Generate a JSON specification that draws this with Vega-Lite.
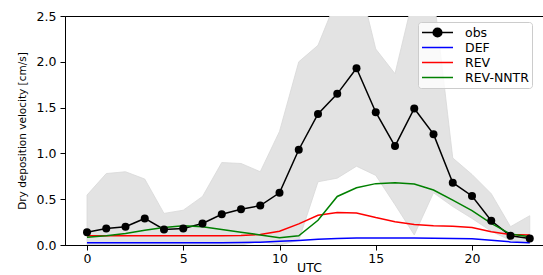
{
  "$schema": "https://vega.github.io/schema/vega-lite/v6.json",
  "width": 479,
  "height": 229,
  "autosize": {"type": "none"},
  "padding": {"left": 65, "top": 16, "right": 0, "bottom": 30},
  "config": {
    "font": "DejaVu Sans",
    "view": {"stroke": "black", "strokeWidth": 1},
    "axis": {
      "grid": false,
      "domainColor": "black",
      "tickColor": "black",
      "labelColor": "black",
      "titleColor": "black",
      "titleFontWeight": "normal",
      "labelFont": "DejaVu Sans",
      "titleFont": "DejaVu Sans"
    }
  },
  "datasets": {
    "band": [
      {"hour": 0, "lo": 0, "hi": 0.545},
      {"hour": 1, "lo": 0, "hi": 0.78},
      {"hour": 2, "lo": 0, "hi": 0.8},
      {"hour": 3, "lo": 0, "hi": 0.72},
      {"hour": 4, "lo": 0, "hi": 0.345},
      {"hour": 5, "lo": 0, "hi": 0.38},
      {"hour": 6, "lo": 0, "hi": 0.53},
      {"hour": 7, "lo": 0, "hi": 0.9},
      {"hour": 8, "lo": 0, "hi": 0.89},
      {"hour": 9, "lo": 0.04, "hi": 0.8},
      {"hour": 10, "lo": 0.0, "hi": 1.24},
      {"hour": 11, "lo": 0.05, "hi": 2.0},
      {"hour": 12, "lo": 0.69, "hi": 2.18},
      {"hour": 13, "lo": 0.73, "hi": 2.7},
      {"hour": 14, "lo": 0.86, "hi": 3.0},
      {"hour": 15, "lo": 0.76, "hi": 2.14},
      {"hour": 16, "lo": 0.44, "hi": 1.87},
      {"hour": 17, "lo": 0.11, "hi": 2.75},
      {"hour": 18, "lo": 0.57, "hi": 2.75},
      {"hour": 19, "lo": 0.42, "hi": 0.95},
      {"hour": 20, "lo": 0.29, "hi": 0.77},
      {"hour": 21, "lo": 0.15, "hi": 0.56},
      {"hour": 22, "lo": 0.05, "hi": 0.2},
      {"hour": 23, "lo": 0.02, "hi": 0.32}
    ],
    "series": [
      {"hour": 0, "series": "obs", "value": 0.14},
      {"hour": 1, "series": "obs", "value": 0.18},
      {"hour": 2, "series": "obs", "value": 0.2},
      {"hour": 3, "series": "obs", "value": 0.29},
      {"hour": 4, "series": "obs", "value": 0.17},
      {"hour": 5, "series": "obs", "value": 0.18},
      {"hour": 6, "series": "obs", "value": 0.235},
      {"hour": 7, "series": "obs", "value": 0.335},
      {"hour": 8, "series": "obs", "value": 0.39},
      {"hour": 9, "series": "obs", "value": 0.43},
      {"hour": 10, "series": "obs", "value": 0.57},
      {"hour": 11, "series": "obs", "value": 1.04},
      {"hour": 12, "series": "obs", "value": 1.43},
      {"hour": 13, "series": "obs", "value": 1.65},
      {"hour": 14, "series": "obs", "value": 1.93},
      {"hour": 15, "series": "obs", "value": 1.45},
      {"hour": 16, "series": "obs", "value": 1.08},
      {"hour": 17, "series": "obs", "value": 1.49},
      {"hour": 18, "series": "obs", "value": 1.21},
      {"hour": 19, "series": "obs", "value": 0.68},
      {"hour": 20, "series": "obs", "value": 0.535},
      {"hour": 21, "series": "obs", "value": 0.265},
      {"hour": 22, "series": "obs", "value": 0.1},
      {"hour": 23, "series": "obs", "value": 0.07},
      {"hour": 0, "series": "DEF", "value": 0.025},
      {"hour": 1, "series": "DEF", "value": 0.025},
      {"hour": 2, "series": "DEF", "value": 0.025},
      {"hour": 3, "series": "DEF", "value": 0.025},
      {"hour": 4, "series": "DEF", "value": 0.025},
      {"hour": 5, "series": "DEF", "value": 0.025},
      {"hour": 6, "series": "DEF", "value": 0.025},
      {"hour": 7, "series": "DEF", "value": 0.025},
      {"hour": 8, "series": "DEF", "value": 0.026},
      {"hour": 9, "series": "DEF", "value": 0.03},
      {"hour": 10, "series": "DEF", "value": 0.04},
      {"hour": 11, "series": "DEF", "value": 0.05},
      {"hour": 12, "series": "DEF", "value": 0.063},
      {"hour": 13, "series": "DEF", "value": 0.072},
      {"hour": 14, "series": "DEF", "value": 0.076},
      {"hour": 15, "series": "DEF", "value": 0.077},
      {"hour": 16, "series": "DEF", "value": 0.077},
      {"hour": 17, "series": "DEF", "value": 0.076},
      {"hour": 18, "series": "DEF", "value": 0.075},
      {"hour": 19, "series": "DEF", "value": 0.072},
      {"hour": 20, "series": "DEF", "value": 0.067},
      {"hour": 21, "series": "DEF", "value": 0.053},
      {"hour": 22, "series": "DEF", "value": 0.034},
      {"hour": 23, "series": "DEF", "value": 0.025},
      {"hour": 0, "series": "REV", "value": 0.102},
      {"hour": 1, "series": "REV", "value": 0.102},
      {"hour": 2, "series": "REV", "value": 0.102},
      {"hour": 3, "series": "REV", "value": 0.102},
      {"hour": 4, "series": "REV", "value": 0.102},
      {"hour": 5, "series": "REV", "value": 0.102},
      {"hour": 6, "series": "REV", "value": 0.102},
      {"hour": 7, "series": "REV", "value": 0.102},
      {"hour": 8, "series": "REV", "value": 0.105},
      {"hour": 9, "series": "REV", "value": 0.115},
      {"hour": 10, "series": "REV", "value": 0.15},
      {"hour": 11, "series": "REV", "value": 0.23},
      {"hour": 12, "series": "REV", "value": 0.325},
      {"hour": 13, "series": "REV", "value": 0.355},
      {"hour": 14, "series": "REV", "value": 0.35},
      {"hour": 15, "series": "REV", "value": 0.3},
      {"hour": 16, "series": "REV", "value": 0.255},
      {"hour": 17, "series": "REV", "value": 0.225},
      {"hour": 18, "series": "REV", "value": 0.21},
      {"hour": 19, "series": "REV", "value": 0.205},
      {"hour": 20, "series": "REV", "value": 0.19},
      {"hour": 21, "series": "REV", "value": 0.145},
      {"hour": 22, "series": "REV", "value": 0.115},
      {"hour": 23, "series": "REV", "value": 0.11},
      {"hour": 0, "series": "REV-NNTR", "value": 0.085},
      {"hour": 1, "series": "REV-NNTR", "value": 0.1},
      {"hour": 2, "series": "REV-NNTR", "value": 0.125},
      {"hour": 3, "series": "REV-NNTR", "value": 0.16},
      {"hour": 4, "series": "REV-NNTR", "value": 0.19},
      {"hour": 5, "series": "REV-NNTR", "value": 0.21},
      {"hour": 6, "series": "REV-NNTR", "value": 0.2},
      {"hour": 7, "series": "REV-NNTR", "value": 0.17},
      {"hour": 8, "series": "REV-NNTR", "value": 0.14},
      {"hour": 9, "series": "REV-NNTR", "value": 0.11},
      {"hour": 10, "series": "REV-NNTR", "value": 0.08},
      {"hour": 11, "series": "REV-NNTR", "value": 0.1},
      {"hour": 12, "series": "REV-NNTR", "value": 0.27},
      {"hour": 13, "series": "REV-NNTR", "value": 0.53},
      {"hour": 14, "series": "REV-NNTR", "value": 0.625},
      {"hour": 15, "series": "REV-NNTR", "value": 0.67},
      {"hour": 16, "series": "REV-NNTR", "value": 0.68},
      {"hour": 17, "series": "REV-NNTR", "value": 0.665},
      {"hour": 18, "series": "REV-NNTR", "value": 0.6},
      {"hour": 19, "series": "REV-NNTR", "value": 0.49},
      {"hour": 20, "series": "REV-NNTR", "value": 0.375},
      {"hour": 21, "series": "REV-NNTR", "value": 0.235},
      {"hour": 22, "series": "REV-NNTR", "value": 0.12},
      {"hour": 23, "series": "REV-NNTR", "value": 0.09}
    ]
  },
  "layer": [
    {
      "data": {"name": "band"},
      "mark": {"type": "area", "color": "#e3e3e3", "stroke": "#d8d8d8", "strokeWidth": 0.8, "clip": true, "opacity": 1},
      "encoding": {
        "x": {
          "field": "hour", "type": "quantitative",
          "scale": {"domain": [-1.143, 23.74], "nice": false, "zero": false},
          "axis": {
            "values": [0, 5, 10, 15, 20], "tickSize": 5, "labelPadding": 2,
            "labelFontSize": 12.5, "title": "UTC", "titleFontSize": 12.5,
            "titleX": 244, "titleY": 26, "titleBaseline": "alphabetic", "labelFlush": false
          }
        },
        "y": {
          "field": "hi", "type": "quantitative",
          "scale": {"domain": [0, 2.5], "nice": false},
          "axis": {
            "values": [0, 0.5, 1, 1.5, 2, 2.5], "format": ".1f", "tickSize": 5,
            "labelPadding": 4, "labelFontSize": 12.5,
            "title": "Dry deposition velocity [cm/s]", "titleFontSize": 10.5,
            "titlePadding": 9
          }
        },
        "y2": {"field": "lo"}
      }
    },
    {
      "data": {"name": "series"},
      "mark": {"type": "line", "strokeWidth": 1.5, "clip": true},
      "encoding": {
        "x": {"field": "hour", "type": "quantitative"},
        "y": {"field": "value", "type": "quantitative"},
        "color": {
          "field": "series", "type": "nominal",
          "scale": {"domain": ["obs", "DEF", "REV", "REV-NNTR"], "range": ["black", "#0000ff", "#ff0000", "#008000"]},
          "legend": {
            "orient": "none", "legendX": 353, "legendY": 6, "title": null,
            "labelFontSize": 12.5, "labelColor": "black", "labelFont": "DejaVu Sans",
            "symbolType": "stroke", "symbolSize": 961, "symbolStrokeWidth": 1.5,
            "clipHeight": 15, "rowPadding": 0, "padding": 3, "labelOffset": 11,
            "fillColor": "rgba(255,255,255,0.8)", "strokeColor": "#cccccc", "cornerRadius": 3,
            "encode": {
              "symbols": {
                "update": {
                  "shape": {"signal": "datum.value === 'obs' ? 'M-1,0H1M-0.28,0A0.28,0.28 0 1,0 0.28,0A0.28,0.28 0 1,0 -0.28,0Z' : 'M-1,0H1'"},
                  "fill": {"signal": "datum.value === 'obs' ? 'black' : 'transparent'"},
                  "strokeWidth": {"value": 1.5}
                }
              }
            }
          }
        }
      }
    },
    {
      "data": {"name": "series"},
      "transform": [{"filter": "datum.series === 'obs'"}],
      "mark": {"type": "point", "filled": true, "size": 64, "color": "black", "opacity": 1},
      "encoding": {
        "x": {"field": "hour", "type": "quantitative"},
        "y": {"field": "value", "type": "quantitative"}
      }
    }
  ]
}
